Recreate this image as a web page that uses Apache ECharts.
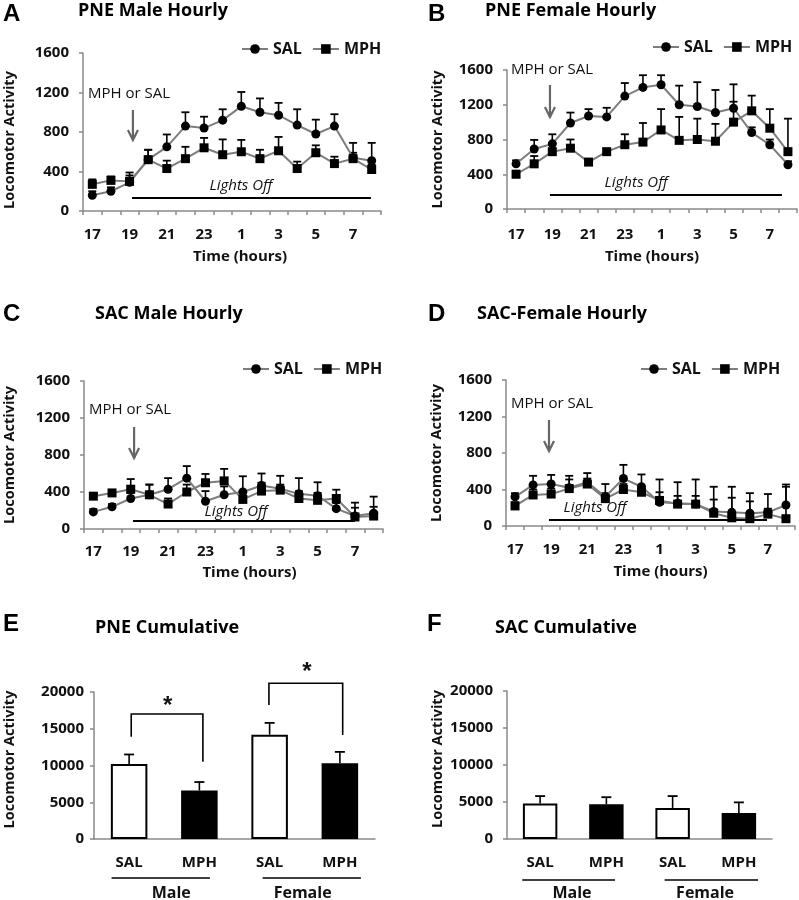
<!DOCTYPE html>
<html><head><meta charset="utf-8">
<script src="https://cdn.jsdelivr.net/npm/echarts@6/dist/echarts.min.js"></script>
<style>html,body{margin:0;padding:0;background:#fff}#c{width:799px;height:900px}</style>
</head><body><div id="c"></div>
<script>
// ---------- DATA ----------
const hours = ['17','18','19','20','21','22','23','24','1','2','3','4','5','6','7','8'];
const yTicksHourly = [0, 400, 800, 1200, 1600];
const yTicksCum = [0, 5000, 10000, 15000, 20000];

const A_SAL     = [160,200,290,520,650,860,840,920,1060,1000,970,870,780,860,540,510];
const A_SAL_err = [40,40,70,100,125,140,115,110,145,140,125,160,145,120,150,180];
const A_MPH     = [270,310,300,520,430,530,640,570,600,530,610,430,590,480,530,420];
const A_MPH_err = [50,40,90,100,80,120,100,155,120,90,140,70,75,70,60,50];

const B_SAL     = [520,690,750,990,1070,1060,1300,1400,1430,1200,1180,1110,1160,880,740,510];
const B_SAL_err = [40,105,110,120,80,105,150,140,110,220,280,260,275,60,60,40];
const B_MPH     = [400,520,660,700,540,660,740,770,910,790,800,780,1000,1130,930,660];
const B_MPH_err = [40,90,100,100,30,30,120,220,240,270,240,200,235,175,220,380];

const C_SAL     = [185,240,330,370,430,550,300,370,400,470,435,380,360,220,140,170];
const C_SAL_err = [30,30,60,110,120,130,110,90,170,130,140,170,145,60,145,180];
const C_MPH     = [355,390,430,370,270,400,500,520,320,410,420,330,310,330,130,140];
const C_MPH_err = [30,30,110,110,60,80,95,130,90,90,60,80,80,95,100,100];

const D_SAL     = [320,450,460,420,480,320,520,430,260,250,240,160,150,140,150,230];
const D_SAL_err = [40,100,100,130,100,140,150,135,250,230,270,270,280,220,200,225];
const D_MPH     = [220,340,350,410,460,300,400,370,280,240,240,140,90,80,130,80];
const D_MPH_err = [40,60,60,100,60,60,60,60,90,90,90,150,220,190,60,350];

const barCats = ['Male SAL','Male MPH','Female SAL','Female MPH'];
const barTickLabels = ['SAL','MPH','SAL','MPH'];
const E_vals = [10200, 6600, 14200, 10300];
const E_err  = [1300, 1150, 1600, 1550];
const F_vals = [4800, 4700, 4200, 3500];
const F_err  = [1000, 950, 1600, 1450];

// ---------- STYLE ----------
const FONT = 'Open Sans';
const TXT = '#111';
const AX = '#8a8a8a';

const chart = echarts.init(document.getElementById('c'));

const linePanels = [
  {letter:'A', title:'PNE Male Hourly', lx:3, ly:2, tx:78, ty:2,
   grid:{left:83, top:53, width:298, height:158},
   sal:A_SAL, salErr:A_SAL_err, mph:A_MPH, mphErr:A_MPH_err,
   lblMargin:16, nameGap:38, namePad:[0,0,0,16], yGap:66, yPad:[0,16,0,0],
   legend:{left:241, top:41},
   ann:{mph:[1.97,1185], arrow:[2.18,1023,719], lights:[2.13,14.96,132], lightsTxt:[7.98,255]}},
  {letter:'B', title:'PNE Female Hourly', lx:428, ly:2, tx:485, ty:2,
   grid:{left:507, top:70, width:290, height:139},
   sal:B_SAL, salErr:B_SAL_err, mph:B_MPH, mphErr:B_MPH_err,
   lblMargin:18, nameGap:40, namePad:[0,0,0,0], yGap:62, yPad:[0,0,0,0],
   legend:{left:652, top:39},
   ann:{mph:[1.98,1600], arrow:[1.87,1427,1059], lights:[1.87,14.67,161], lightsTxt:[6.62,299]}},
  {letter:'C', title:'SAC Male Hourly', lx:3, ly:302, tx:95, ty:305,
   grid:{left:84, top:381, width:299, height:148},
   sal:C_SAL, salErr:C_SAL_err, mph:C_MPH, mphErr:C_MPH_err,
   lblMargin:15, nameGap:36, namePad:[0,0,0,32], yGap:67, yPad:[0,0,0,0],
   legend:{left:242, top:361},
   ann:{mph:[1.96,1286], arrow:[2.18,1103,768], lights:[2.12,14.0,86], lightsTxt:[7.63,184]}},
  {letter:'D', title:'SAC-Female Hourly', lx:428, ly:302, tx:477, ty:305,
   grid:{left:506, top:380, width:289, height:146},
   sal:D_SAL, salErr:D_SAL_err, mph:D_MPH, mphErr:D_MPH_err,
   lblMargin:16, nameGap:38, namePad:[0,0,0,20], yGap:62, yPad:[0,0,0,0],
   legend:{left:640, top:361},
   ann:{mph:[2.05,1337], arrow:[1.88,1162,822], lights:[1.88,13.95,66], lightsTxt:[4.43,197]}}
];

const barPanels = [
  {letter:'E', title:'PNE Cumulative', lx:3, ly:612, tx:95, ty:619,
   grid:{left:94, top:692, width:281, height:147},
   vals:E_vals, err:E_err, yMargin:10, yGap:77, yPad:[0,0,0,12],
   ann:{texts:[{x:0.55,y:18000,t:'*',star:true},{x:2.53,y:22700,t:'*',star:true},
               {x:0.6,y:-7350,t:'Male',b:true},{x:2.47,y:-7350,t:'Female',b:true}],
        lines:[[[0.03,13900],[0.03,17000],[1.05,17000],[1.05,10500]],
               [[1.99,18230],[1.99,21200],[3.04,21200],[3.04,14150]],
               [[-0.25,-5300],[1.15,-5300]],[[1.9,-5300],[3.3,-5300]]]}},
  {letter:'F', title:'SAC Cumulative', lx:427, ly:612, tx:495, ty:619,
   grid:{left:507, top:691, width:265, height:148},
   vals:F_vals, err:F_err, yMargin:14, yGap:62, yPad:[0,0,0,12],
   ann:{texts:[{x:0.48,y:-7300,t:'Male',b:true},{x:2.49,y:-7300,t:'Female',b:true}],
        lines:[[[-0.27,-5540],[1.13,-5540]],[[1.88,-5540],[3.29,-5540]]]}}
];

const titles = [], grids = [], xAxes = [], yAxes = [], series = [], legends = [];

function addTitles(p){
  titles.push({text:p.letter, left:p.lx, top:p.ly, padding:0,
    textStyle:{fontFamily:'Liberation Sans', fontSize:24, fontWeight:'bold', color:'#000'}});
  titles.push({text:p.title, left:p.tx, top:p.ty, padding:0,
    textStyle:{fontFamily:FONT, fontSize:18, fontWeight:'bold', color:'#000'}});
}

function errSeries(xi, yi, means, errs, capHalf){
  return {type:'custom', xAxisIndex:xi, yAxisIndex:yi, z:2, silent:true,
    data: means.map((m,i)=>[i, m, m + errs[i]]),
    renderItem:(params, api)=>{
      const p0 = api.coord([api.value(0), api.value(1)]);
      const p1 = api.coord([api.value(0), api.value(2)]);
      return {type:'group', children:[
        {type:'line', shape:{x1:p0[0],y1:p0[1],x2:p1[0],y2:p1[1]}, style:{stroke:'#000', lineWidth:1.6}},
        {type:'line', shape:{x1:p1[0]-capHalf,y1:p1[1],x2:p1[0]+capHalf,y2:p1[1]}, style:{stroke:'#000', lineWidth:1.8}}
      ]};
    }};
}

function annSeries(xi, yi, a){
  return {type:'custom', xAxisIndex:xi, yAxisIndex:yi, z:10, silent:true, clip:false,
    data:[[0,0]],
    renderItem:(params, api)=>{
      const P = (x,y)=>api.coord([x,y]);
      const ch = [];
      (a.lines||[]).forEach(l=>{
        ch.push({type:'polyline', shape:{points:l.map(q=>P(q[0],q[1]))},
          style:{stroke:'#000', lineWidth:1.6, fill:null}});
      });
      if (a.lightsLine){
        const L=a.lightsLine, s=P(L[0],L[2]), e=P(L[1],L[2]);
        ch.push({type:'line', shape:{x1:s[0], y1:s[1], x2:e[0], y2:e[1]},
          style:{stroke:'#000', lineWidth:2}});
      }
      if (a.arrow){
        const A=a.arrow, s=P(A[0],A[1]), e=P(A[0],A[2]);
        ch.push({type:'line', shape:{x1:s[0],y1:s[1],x2:e[0],y2:e[1]}, style:{stroke:'#666', lineWidth:2.2}});
        ch.push({type:'polyline', shape:{points:[[e[0]-5,e[1]-10],[e[0],e[1]],[e[0]+5,e[1]-10]]},
          style:{stroke:'#666', lineWidth:2.2, fill:null}});
      }
      (a.texts||[]).forEach(t=>{
        const p=P(t.x,t.y);
        ch.push({type:'text', x:p[0], y:p[1], style:{text:t.t, fill:TXT,
          fontFamily: t.star ? 'Liberation Sans' : FONT,
          fontSize: t.star ? 24 : (t.size||16),
          fontWeight: (t.b||t.star) ? 'bold' : 'normal',
          fontStyle: t.it ? 'italic' : 'normal',
          align:'center', verticalAlign:'middle'}});
      });
      return {type:'group', children:ch};
    }};
}

const yAxisCommon = (gi, ticks)=>({type:'value', gridIndex:gi,
  axisLine:{show:true, onZero:false, lineStyle:{color:AX, width:1.5}},
  axisTick:{show:true, length:4, lineStyle:{color:AX, width:1.5}},
  splitLine:{show:false},
  axisLabel:{color:TXT, fontFamily:FONT, fontSize:15, fontWeight:'bold',
    formatter:(v)=> ticks.includes(v) ? String(v) : ''},
  name:'Locomotor Activity', nameLocation:'middle',
  nameTextStyle:{color:TXT, fontFamily:FONT, fontSize:14.5, fontWeight:'bold'}});

linePanels.forEach((p)=>{
  const gi = grids.length;
  addTitles(p);
  grids.push(Object.assign({containLabel:false}, p.grid));
  const xc = xAxes.length;
  xAxes.push({type:'category', gridIndex:gi, data:hours, boundaryGap:true,
    axisLine:{show:true, onZero:false, lineStyle:{color:AX, width:1.5}},
    axisTick:{show:true, interval:0, length:4, lineStyle:{color:AX, width:1.5}},
    axisLabel:{interval:1, margin:p.lblMargin, color:TXT, fontFamily:FONT, fontSize:15, fontWeight:'bold'},
    name:'Time (hours)', nameLocation:'middle', nameGap:p.nameGap,
    nameTextStyle:{color:TXT, fontFamily:FONT, fontSize:15, fontWeight:'bold', padding:p.namePad}});
  const xv = xAxes.length;
  xAxes.push({type:'value', gridIndex:gi, min:-0.5, max:15.5, show:false, axisLine:{onZero:false}});
  const ya = yAxisCommon(gi, yTicksHourly);
  ya.min = 0; ya.max = 1600; ya.interval = 400;
  ya.axisLabel.margin = 14;
  ya.nameGap = p.yGap; ya.nameTextStyle.padding = p.yPad;
  yAxes.push(ya);
  series.push(errSeries(xc, gi, p.sal, p.salErr, 4));
  series.push(errSeries(xc, gi, p.mph, p.mphErr, 4));
  series.push({type:'line', name:'SAL', xAxisIndex:xc, yAxisIndex:gi, data:p.sal, z:3,
    symbol:'circle', symbolSize:9, itemStyle:{color:'#000'}, lineStyle:{color:'#7d7d7d', width:2}});
  series.push({type:'line', name:'MPH', xAxisIndex:xc, yAxisIndex:gi, data:p.mph, z:3,
    symbol:'rect', symbolSize:9, itemStyle:{color:'#000'}, lineStyle:{color:'#7d7d7d', width:2}});
  const a = p.ann;
  series.push(annSeries(xv, gi, {
    arrow:a.arrow, lightsLine:a.lights,
    texts:[{x:a.mph[0], y:a.mph[1], t:'MPH or SAL', size:15},
           {x:a.lightsTxt[0], y:a.lightsTxt[1], t:'Lights Off', size:15, it:true}]}));
  legends.push({left:p.legend.left, top:p.legend.top, data:['SAL','MPH'], selectedMode:false, padding:0,
    itemWidth:26, itemHeight:12, itemGap:10,
    textStyle:{color:TXT, fontFamily:FONT, fontSize:16, fontWeight:'bold'}});
});

barPanels.forEach((p)=>{
  const gi = grids.length;
  addTitles(p);
  grids.push(Object.assign({containLabel:false}, p.grid));
  const xc = xAxes.length;
  xAxes.push({type:'category', gridIndex:gi, data:barCats, boundaryGap:true,
    axisLine:{show:true, onZero:false, lineStyle:{color:AX, width:1.5}},
    axisTick:{show:false},
    axisLabel:{interval:0, margin:16, color:TXT, fontFamily:FONT, fontSize:15, fontWeight:'bold',
      formatter:(v,i)=>barTickLabels[i]}});
  const xv = xAxes.length;
  xAxes.push({type:'value', gridIndex:gi, min:-0.5, max:3.5, show:false, axisLine:{onZero:false}});
  const ya = yAxisCommon(gi, yTicksCum);
  ya.min = 0; ya.max = 20000; ya.interval = 5000;
  ya.axisLabel.margin = p.yMargin;
  ya.nameGap = p.yGap; ya.nameTextStyle.padding = p.yPad;
  yAxes.push(ya);
  series.push({type:'bar', name:'cum'+p.letter, xAxisIndex:xc, yAxisIndex:gi, data:p.vals, barWidth:'52%', z:2,
    itemStyle:{color:(q)=> q.dataIndex % 2 ? '#000' : '#fff', borderColor:'#000', borderWidth:2}});
  series.push(errSeries(xc, gi, p.vals, p.err, 5));
  series.push(annSeries(xv, gi, p.ann));
});

chart.setOption({
  animation:false,
  backgroundColor:'#fff',
  title:titles, grid:grids, xAxis:xAxes, yAxis:yAxes, legend:legends, series:series
});
</script></body></html>
